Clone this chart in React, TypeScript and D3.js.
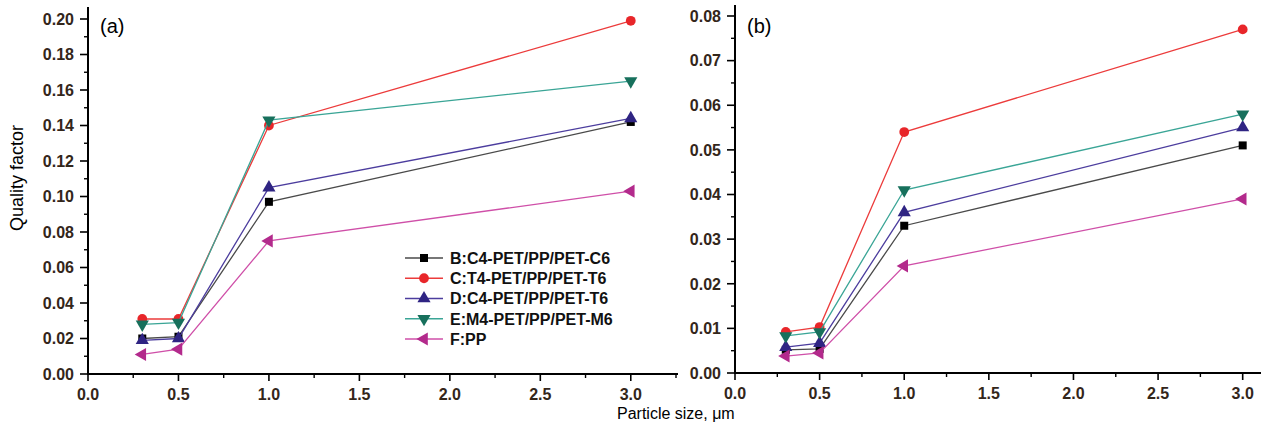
import React from 'react';
import * as d3 from 'd3';

const sizes = [0.3, 0.5, 1.0, 3.0];
const seriesNames = ['B:C4-PET/PP/PET-C6', 'C:T4-PET/PP/PET-T6', 'D:C4-PET/PP/PET-T6', 'E:M4-PET/PP/PET-M6', 'F:PP'];

const panelA_B = [0.020, 0.021, 0.097, 0.142];
const panelA_C = [0.031, 0.031, 0.140, 0.199];
const panelA_D = [0.019, 0.020, 0.105, 0.144];
const panelA_E = [0.028, 0.029, 0.143, 0.165];
const panelA_F = [0.011, 0.014, 0.075, 0.103];

const panelB_B = [0.0052, 0.0054, 0.033, 0.051];
const panelB_C = [0.0092, 0.0103, 0.054, 0.077];
const panelB_D = [0.0058, 0.0067, 0.036, 0.055];
const panelB_E = [0.0083, 0.0092, 0.041, 0.058];
const panelB_F = [0.0038, 0.0045, 0.024, 0.039];

const xMajorTicks = [0, 0.5, 1.0, 1.5, 2.0, 2.5, 3.0];
const yMajorTicksA = [0, 0.02, 0.04, 0.06, 0.08, 0.10, 0.12, 0.14, 0.16, 0.18, 0.20];
const yMajorTicksB = [0, 0.01, 0.02, 0.03, 0.04, 0.05, 0.06, 0.07, 0.08];

const lineColors = ['#4a4a4a', '#ec3b3b', '#4c3d9e', '#3aa596', '#cf4fa8'];
const markColors = ['#000000', '#e8262a', '#2f2483', '#17705c', '#b32a8c'];
const markTypes = ['square', 'circle', 'up', 'down', 'left'];

const FONT = 'Arial, "Liberation Sans", sans-serif';
const TICK_COLOR = '#33261a';

function Marker({ type, x, y, color }: { type: string; x: number; y: number; color: string }) {
  let sym: any = d3.symbolSquare;
  let size = 64;
  let rot = 0;
  if (type === 'circle') { sym = d3.symbolCircle; size = 75; }
  if (type === 'up') { sym = d3.symbolTriangle; size = 75; }
  if (type === 'down') { sym = d3.symbolTriangle; size = 75; rot = 180; }
  if (type === 'left') { sym = d3.symbolTriangle; size = 75; rot = -90; }
  const d = d3.symbol().type(sym).size(size)() || '';
  return <path d={d} fill={color} transform={`translate(${x},${y}) rotate(${rot})`} />;
}

type PanelProps = {
  series: number[][];
  x0: number; x1: number;
  y0: number; y1: number; yTop: number; yMax: number;
  yTicks: number[];
  yMinorStep: number;
  label: string;
  legend?: boolean;
};

function Panel(p: PanelProps) {
  const x = d3.scaleLinear().domain([0, 3.25]).range([p.x0, p.x1]);
  const y = d3.scaleLinear().domain([0, p.yMax]).range([p.y0, p.y1]);
  const xMinor = d3.range(0.25, 3.3, 0.5);
  const yMinor = d3.range(p.yMinorStep, p.yMax + 1e-9, p.yMinorStep * 2);
  const line = d3.line<number>().x((_, i) => x(sizes[i])).y((v) => y(v));
  const ox = x(0);
  const oy = y(0);
  return (
    <g>
      {p.series.map((s, si) => (
        <g key={si}>
          <path d={line(s) || ''} fill="none" stroke={lineColors[si]} strokeWidth={1.3} />
          {s.map((v, i) => (
            <Marker key={i} type={markTypes[si]} x={x(sizes[i])} y={y(v)} color={markColors[si]} />
          ))}
        </g>
      ))}
      <line x1={ox} x2={ox} y1={oy + 1} y2={p.yTop} stroke="#000" strokeWidth={2} />
      <line x1={ox - 1} x2={p.x1 + 2} y1={oy} y2={oy} stroke="#000" strokeWidth={2} />
      {xMajorTicks.map((t) => (
        <g key={'xm' + t}>
          <line x1={x(t)} x2={x(t)} y1={oy} y2={oy + 7} stroke="#000" strokeWidth={1.6} />
          <text x={x(t)} y={oy + 26} textAnchor="middle" fontFamily={FONT} fontWeight="bold" fontSize={16} fill={TICK_COLOR}>
            {t.toFixed(1)}
          </text>
        </g>
      ))}
      {xMinor.map((t) => (
        <line key={'xn' + t} x1={x(t)} x2={x(t)} y1={oy} y2={oy + 4} stroke="#000" strokeWidth={1.4} />
      ))}
      {p.yTicks.map((t) => (
        <g key={'ym' + t}>
          <line x1={ox - 8} x2={ox} y1={y(t)} y2={y(t)} stroke="#000" strokeWidth={1.6} />
          <text x={ox - 14} y={y(t)} dy="0.36em" textAnchor="end" fontFamily={FONT} fontWeight="bold" fontSize={16} fill={TICK_COLOR}>
            {t.toFixed(2)}
          </text>
        </g>
      ))}
      {yMinor.map((t) => (
        <line key={'yn' + t} x1={ox - 4} x2={ox} y1={y(t)} y2={y(t)} stroke="#000" strokeWidth={1.4} />
      ))}
      <text x={ox + 12} y={33} fontFamily={FONT} fontSize={20} fill="#000">{p.label}</text>
      {p.legend && (
        <g>
          {seriesNames.map((n, i) => {
            const ly = 258 + i * 20.25;
            return (
              <g key={n}>
                <line x1={405} x2={443} y1={ly} y2={ly} stroke={lineColors[i]} strokeWidth={1.3} />
                <Marker type={markTypes[i]} x={424} y={ly} color={markColors[i]} />
                <text x={450} y={ly} dy="0.36em" fontFamily={FONT} fontWeight="bold" fontSize={16} fill="#111">{n}</text>
              </g>
            );
          })}
        </g>
      )}
    </g>
  );
}

export default function App() {
  return (
    <svg width={1261} height={425} style={{ position: 'absolute', left: 0, top: 0, background: '#fff' }}>
      <Panel
        series={[panelA_B, panelA_C, panelA_D, panelA_E, panelA_F]}
        x0={88} x1={676} y0={374} y1={19} yTop={7} yMax={0.2}
        yTicks={yMajorTicksA} yMinorStep={0.01} label="(a)" legend
      />
      <Panel
        series={[panelB_B, panelB_C, panelB_D, panelB_E, panelB_F]}
        x0={735} x1={1285} y0={373} y1={16} yTop={5} yMax={0.08}
        yTicks={yMajorTicksB} yMinorStep={0.005} label="(b)"
      />
      <text transform="translate(23,178) rotate(-90)" textAnchor="middle" fontFamily={FONT} fontSize={18} fill="#000">
        Quality factor
      </text>
      <text x={617} y={419} fontFamily={FONT} fontSize={16} fill="#000">Particle size, μm</text>
    </svg>
  );
}
